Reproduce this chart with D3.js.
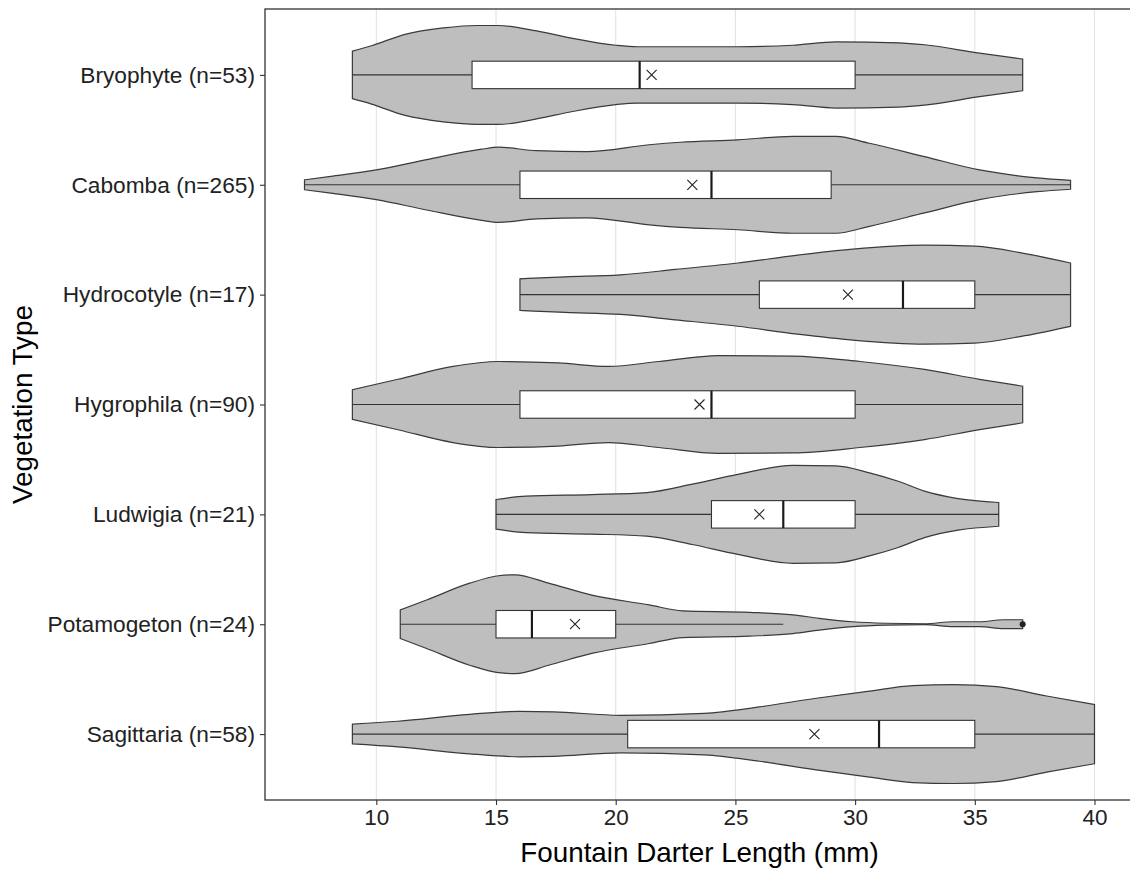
<html>
  <meta charset="utf-8" />
  <script src="https://d3js.org/d3.v7.min.js"></script>
  <style>
    body { margin: 0; background: #fff; }
    text { font-family: "Liberation Sans", Arial, sans-serif; }
  </style>
  <body>
    <svg width="1130" height="870" id="chart"></svg>

    <script>
      // ---- data ----
      const categories = ["Bryophyte", "Cabomba", "Hydrocotyle", "Hygrophila", "Ludwigia", "Potamogeton", "Sagittaria"];
      const counts = [53, 265, 17, 90, 21, 24, 58];
      const whiskerLo = [9, 7, 16, 9, 15, 11, 9];
      const q1 = [14, 16, 26, 16, 24, 15, 20.5];
      const medians = [21, 24, 32, 24, 27, 16.5, 31];
      const q3 = [30, 29, 35, 30, 30, 20, 35];
      const whiskerHi = [37, 39, 39, 37, 36, 27, 40];
      const means = [21.5, 23.2, 29.7, 23.5, 26, 18.3, 28.3];
      const outliers = [[], [], [], [], [], [37], []];
      const xTicks = [10, 15, 20, 25, 30, 35, 40];

      // violin profiles: [length, relative half-width]
      const bryophyteViolin = [[9, 0.48], [9.8, 0.59], [11.2, 0.82], [12.8, 0.95], [14.2, 1.0], [15.1, 1.0], [16.7, 0.89], [18.1, 0.75], [20, 0.6], [20.9, 0.57], [25.1, 0.57], [27.4, 0.6], [29.2, 0.67], [31.8, 0.65], [32.9, 0.61], [35.2, 0.44], [37, 0.32]];
      const cabombaViolin = [[7, 0.1], [8.1, 0.17], [10, 0.3], [12.1, 0.51], [14.4, 0.72], [15.1, 0.76], [16.7, 0.69], [18.8, 0.67], [21.4, 0.81], [22.7, 0.86], [25.1, 0.91], [27.4, 0.98], [29.2, 0.98], [30.6, 0.84], [32.9, 0.57], [35.2, 0.3], [37.6, 0.14], [39, 0.09]];
      const hydrocotyleViolin = [[16, 0.32], [17.9, 0.36], [20.2, 0.4], [22.5, 0.51], [25.1, 0.64], [27.6, 0.8], [29.9, 0.92], [32.9, 1.0], [35, 0.98], [37.1, 0.83], [39, 0.64]];
      const hygrophilaViolin = [[9, 0.3], [10.9, 0.51], [13.2, 0.77], [15.1, 0.87], [17.6, 0.84], [19.7, 0.77], [21.8, 0.87], [24.3, 0.99], [27.4, 0.98], [30.2, 0.87], [32.9, 0.71], [35.2, 0.51], [37, 0.37]];
      const ludwigiaViolin = [[15, 0.3], [16.25, 0.37], [19, 0.4], [21.3, 0.44], [23.2, 0.61], [25.1, 0.81], [27.4, 0.99], [29.2, 0.98], [30.6, 0.84], [31.8, 0.67], [32.9, 0.47], [34.3, 0.32], [36, 0.24]];
      const potamogetonViolin = [[11, 0.29], [12.1, 0.49], [13.9, 0.83], [15.1, 0.98], [15.8, 1.0], [17.2, 0.83], [19, 0.59], [21.4, 0.39], [22.8, 0.27], [25.6, 0.24], [27.4, 0.19], [28.5, 0.12], [29.9, 0.05], [31.3, 0.02], [32.9, 0.01], [34.1, 0.05], [35.2, 0.05], [36.2, 0.09], [37, 0.09]];
      const sagittariaViolin = [[9, 0.2], [10.9, 0.26], [13.9, 0.4], [16, 0.46], [17.4, 0.45], [20.2, 0.38], [23.7, 0.42], [26, 0.55], [28.3, 0.72], [30.6, 0.87], [32.4, 0.98], [34.1, 1.0], [35.9, 0.96], [38, 0.77], [40, 0.6]];
      const violins = [bryophyteViolin, cabombaViolin, hydrocotyleViolin, hygrophilaViolin, ludwigiaViolin, potamogetonViolin, sagittariaViolin];

      // ---- layout ----
      const panelLeft = 265, panelTop = 9, panelRight = 1134, panelBottom = 800;
      const svg = d3.select("#chart");

      const x = d3.scaleLinear().domain([5.35, 41.65]).range([panelLeft, panelRight]);
      const y = d3.scalePoint().domain(categories).range([panelTop, panelBottom]).padding(0.6);
      const halfW = y.step() * 0.45;
      const boxH = y.step() * 0.125;

      svg.append("rect")
        .attr("x", panelLeft).attr("y", panelTop)
        .attr("width", panelRight - panelLeft).attr("height", panelBottom - panelTop)
        .attr("fill", "#fff");

      // grid
      svg.append("g").selectAll("line")
        .data(xTicks).enter().append("line")
        .attr("x1", (d) => x(d)).attr("x2", (d) => x(d))
        .attr("y1", panelTop).attr("y2", panelBottom)
        .attr("stroke", "#e3e3e3").attr("stroke-width", 1.1);

      const area = d3.area()
        .x((d) => x(d[0]))
        .curve(d3.curveMonotoneX);

      categories.forEach(function (cat, i) {
        const cy = y(cat);
        const g = svg.append("g");

        area.y0((d) => cy - halfW * d[1]).y1((d) => cy + halfW * d[1]);
        g.append("path")
          .attr("d", area(violins[i]))
          .attr("fill", "#bebebe")
          .attr("stroke", "#3a3a3a")
          .attr("stroke-width", 1.2);

        // whiskers
        g.append("line")
          .attr("x1", x(whiskerLo[i])).attr("x2", x(q1[i]))
          .attr("y1", cy).attr("y2", cy)
          .attr("stroke", "#333").attr("stroke-width", 1.1);
        g.append("line")
          .attr("x1", x(q3[i])).attr("x2", x(whiskerHi[i]))
          .attr("y1", cy).attr("y2", cy)
          .attr("stroke", "#333").attr("stroke-width", 1.1);

        // box
        g.append("rect")
          .attr("x", x(q1[i])).attr("y", cy - boxH)
          .attr("width", x(q3[i]) - x(q1[i])).attr("height", 2 * boxH)
          .attr("fill", "#fff")
          .attr("stroke", "#333").attr("stroke-width", 1.1);

        g.append("line")
          .attr("x1", x(medians[i])).attr("x2", x(medians[i]))
          .attr("y1", cy - boxH).attr("y2", cy + boxH)
          .attr("stroke", "#1a1a1a").attr("stroke-width", 2.2);

        // mean cross
        const mx = x(means[i]), s = 5;
        g.append("path")
          .attr("d", `M${mx - s},${cy - s}L${mx + s},${cy + s}M${mx - s},${cy + s}L${mx + s},${cy - s}`)
          .attr("stroke", "#222").attr("stroke-width", 1.1).attr("fill", "none");

        g.selectAll("circle")
          .data(outliers[i]).enter().append("circle")
          .attr("cx", (d) => x(d)).attr("cy", cy).attr("r", 3)
          .attr("fill", "#222");
      });

      // border
      svg.append("rect")
        .attr("x", panelLeft).attr("y", panelTop)
        .attr("width", panelRight - panelLeft).attr("height", panelBottom - panelTop)
        .attr("fill", "none").attr("stroke", "#333").attr("stroke-width", 1.3);

      // axes
      const xAxis = svg.append("g")
        .attr("transform", `translate(0, ${panelBottom})`)
        .call(d3.axisBottom(x).tickValues(xTicks).tickSize(5).tickPadding(4));
      xAxis.select(".domain").remove();
      xAxis.selectAll("line").attr("stroke", "#333").attr("stroke-width", 1.1);
      xAxis.selectAll("text")
        .attr("font-size", 22.5).attr("fill", "#222")
        .style("font-family", '"Liberation Sans", Arial, sans-serif');

      const yAxis = svg.append("g")
        .attr("transform", `translate(${panelLeft}, 0)`)
        .call(d3.axisLeft(y).tickSize(5).tickPadding(5)
          .tickFormat((d, i) => `${d} (n=${counts[i]})`));
      yAxis.select(".domain").remove();
      yAxis.selectAll("line").attr("stroke", "#333").attr("stroke-width", 1.1);
      yAxis.selectAll("text")
        .attr("font-size", 22.7).attr("fill", "#222")
        .style("font-family", '"Liberation Sans", Arial, sans-serif');

      svg.append("text")
        .attr("x", (panelLeft + panelRight) / 2)
        .attr("y", 862)
        .attr("text-anchor", "middle")
        .attr("font-size", 27.8)
        .text("Fountain Darter Length (mm)");

      svg.append("text")
        .attr("transform", `translate(32, ${(panelTop + panelBottom) / 2}) rotate(-90)`)
        .attr("text-anchor", "middle")
        .attr("font-size", 27.8)
        .text("Vegetation Type");
    </script>
  </body>
</html>
